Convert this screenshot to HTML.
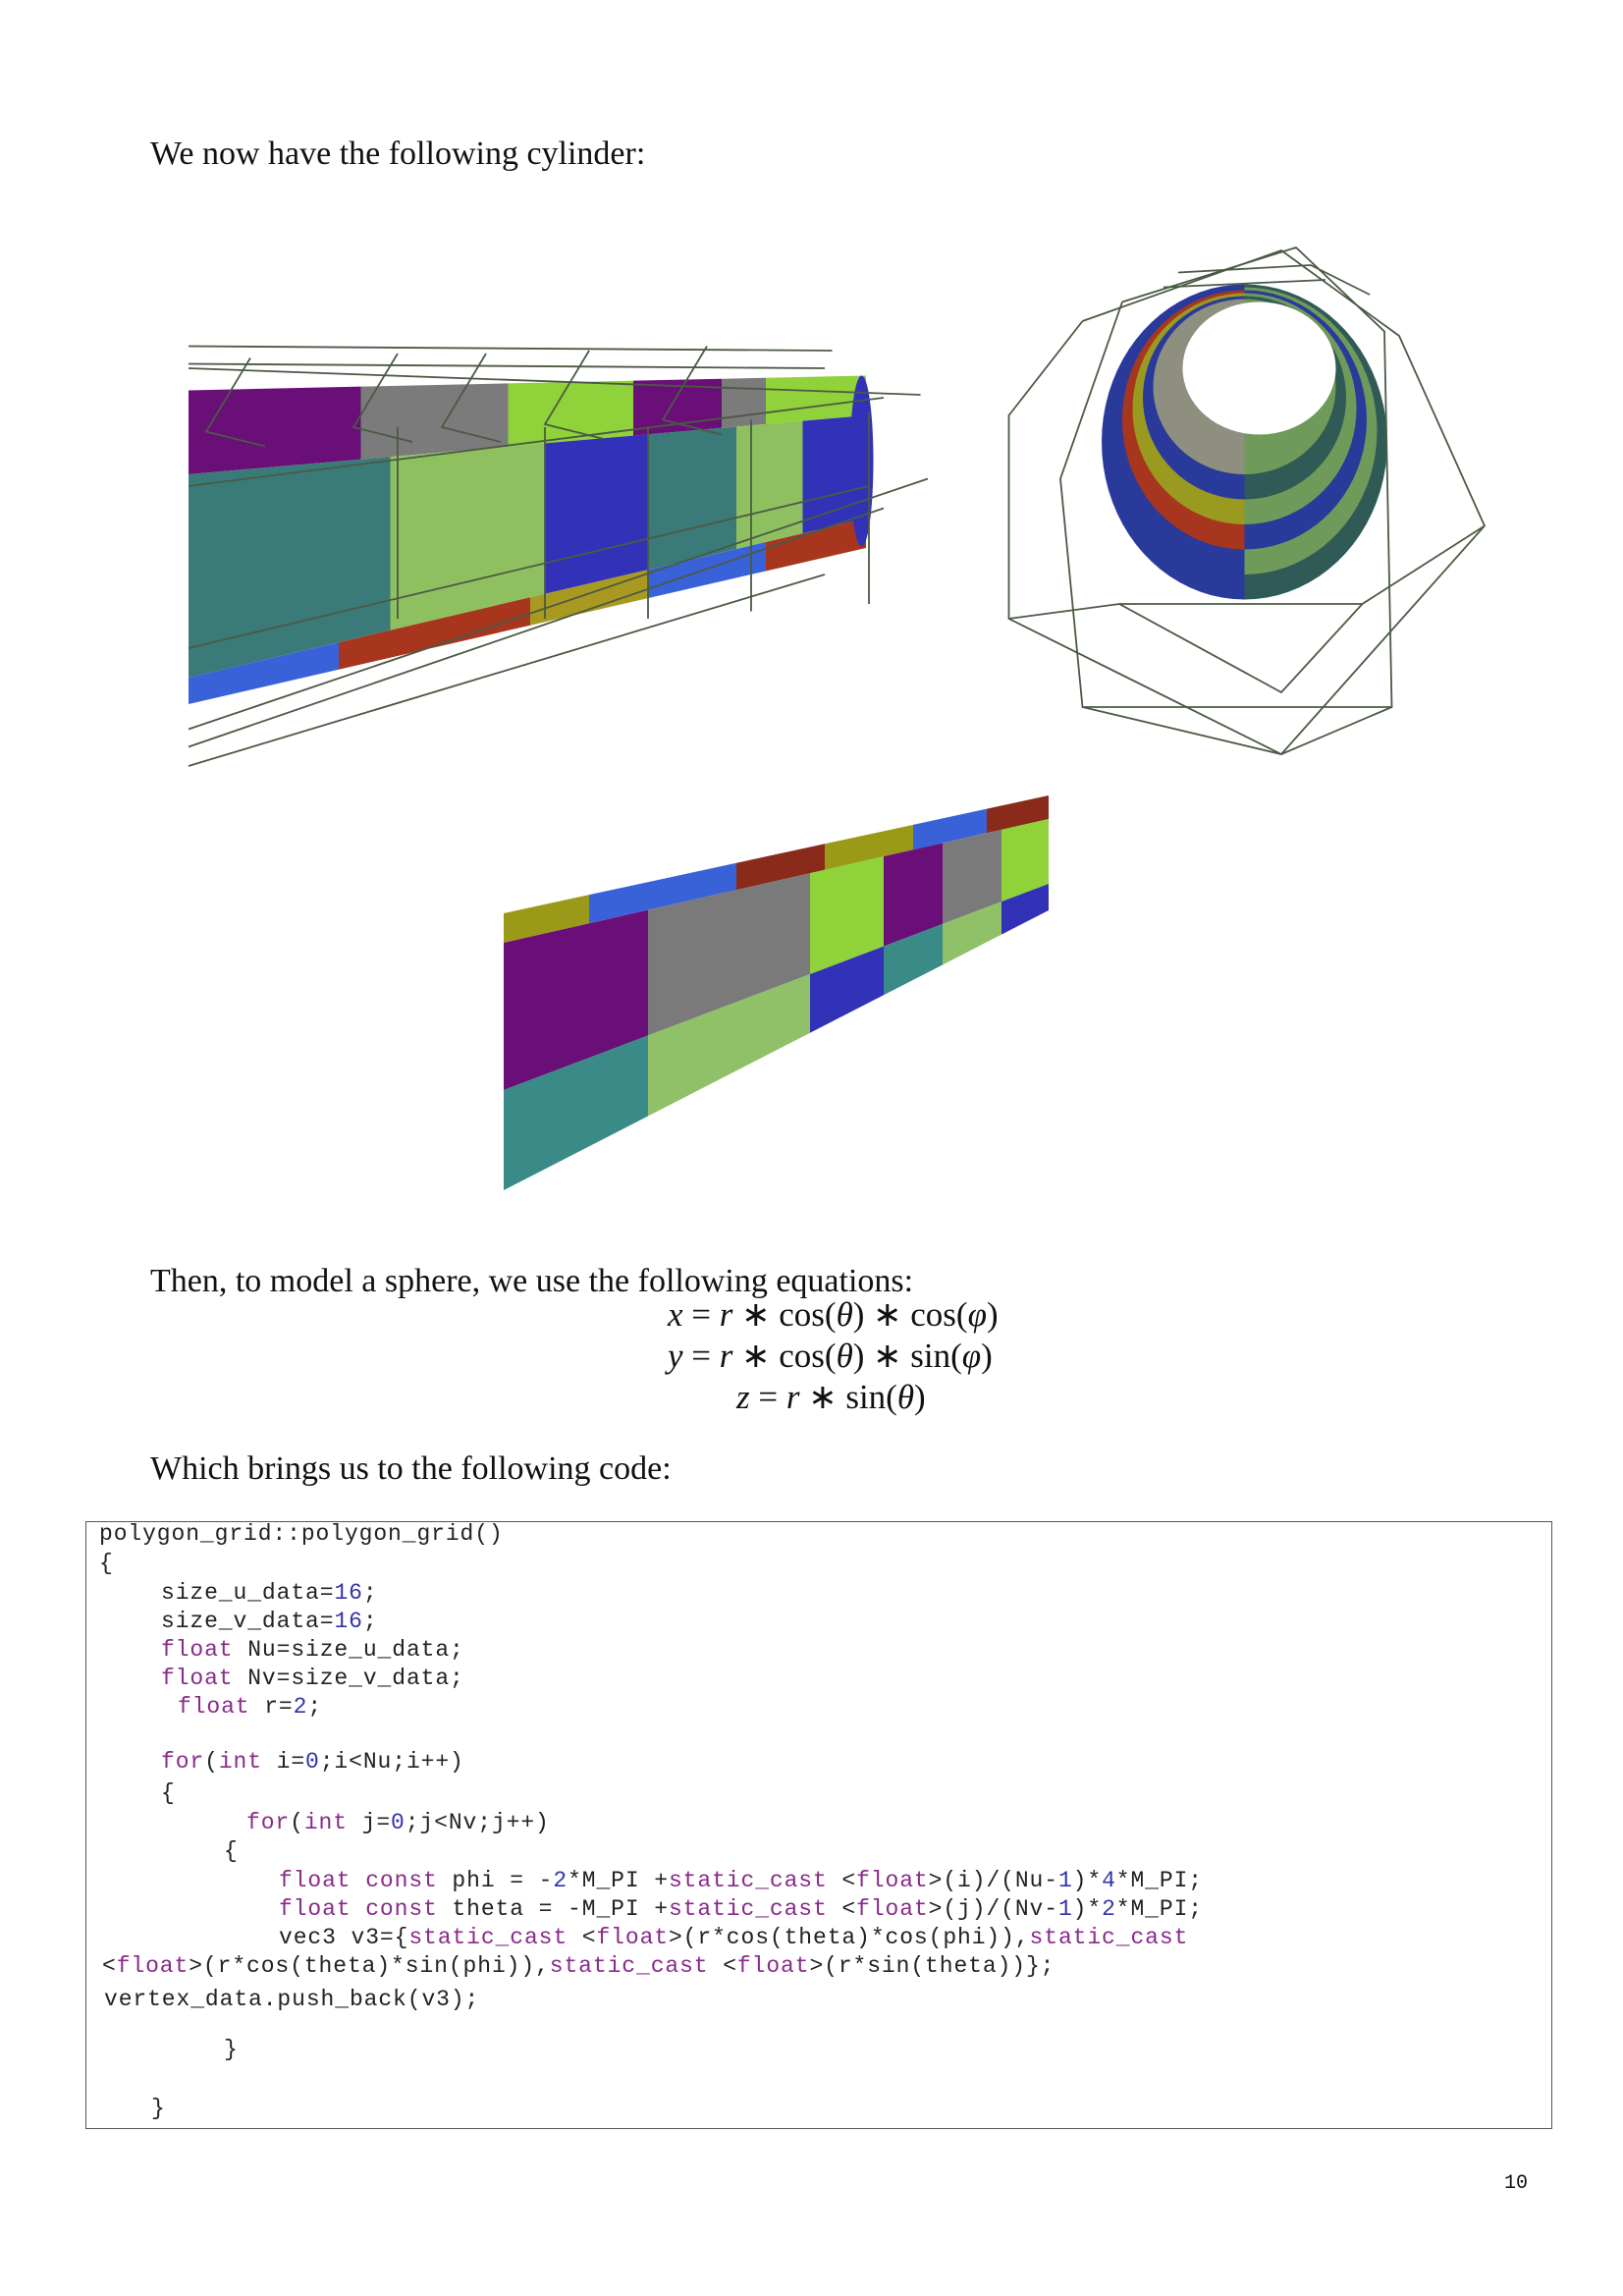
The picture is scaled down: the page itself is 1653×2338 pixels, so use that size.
<!DOCTYPE html>
<html><head><meta charset="utf-8">
<style>
html,body{margin:0;padding:0;background:#fff;}
body{width:1653px;height:2338px;position:relative;overflow:hidden;font-family:"Liberation Serif",serif;color:#111;}
.t{position:absolute;font-size:34px;white-space:nowrap;}
.eq{position:absolute;font-size:35px;white-space:nowrap;font-family:"Liberation Serif",serif;}
#code{position:absolute;left:87px;top:1549px;width:1494px;height:619px;border:1.5px solid #555;box-sizing:border-box;}
.cl{position:absolute;font-family:"Liberation Mono",monospace;font-size:23px;letter-spacing:0.9px;white-space:pre;color:#222;}
.k{color:#8a2a8a}.n{color:#3333aa}
svg{position:absolute;left:0;top:0;}
</style></head><body>
<svg id="art" width="1653" height="2338" viewBox="0 0 1102 1558.67"></svg>
<div class="t" style="left:153px;top:138px">We now have the following cylinder:</div>
<div class="t" style="left:153px;top:1286px">Then, to model a sphere, we use the following equations:</div>
<div class="eq" style="left:680px;top:1319px"><i>x</i> = <i>r</i> ∗ cos(<i>θ</i>) ∗ cos(<i>φ</i>)</div>
<div class="eq" style="left:680px;top:1361px"><i>y</i> = <i>r</i> ∗ cos(<i>θ</i>) ∗ sin(<i>φ</i>)</div>
<div class="eq" style="left:750px;top:1403px"><i>z</i> = <i>r</i> ∗ sin(<i>θ</i>)</div>
<div class="t" style="left:153px;top:1477px">Which brings us to the following code:</div>
<div id="code">
<div class="cl" style="left:13px;top:-1px">polygon_grid::polygon_grid()</div>
<div class="cl" style="left:13px;top:29px">{</div>
<div class="cl" style="left:76px;top:59px">size_u_data=<span class="n">16</span>;</div>
<div class="cl" style="left:76px;top:88px">size_v_data=<span class="n">16</span>;</div>
<div class="cl" style="left:76px;top:117px"><span class="k">float</span> Nu=size_u_data;</div>
<div class="cl" style="left:76px;top:146px"><span class="k">float</span> Nv=size_v_data;</div>
<div class="cl" style="left:93px;top:175px"><span class="k">float</span> r=<span class="n">2</span>;</div>
<div class="cl" style="left:76px;top:231px"><span class="k">for</span>(<span class="k">int</span> i=<span class="n">0</span>;i&lt;Nu;i++)</div>
<div class="cl" style="left:76px;top:263px">{</div>
<div class="cl" style="left:163px;top:293px"><span class="k">for</span>(<span class="k">int</span> j=<span class="n">0</span>;j&lt;Nv;j++)</div>
<div class="cl" style="left:140px;top:322px">{</div>
<div class="cl" style="left:196px;top:352px"><span class="k">float const</span> phi = -<span class="n">2</span>*M_PI +<span class="k">static_cast</span> &lt;<span class="k">float</span>&gt;(i)/(Nu-<span class="n">1</span>)*<span class="n">4</span>*M_PI;</div>
<div class="cl" style="left:196px;top:381px"><span class="k">float const</span> theta = -M_PI +<span class="k">static_cast</span> &lt;<span class="k">float</span>&gt;(j)/(Nv-<span class="n">1</span>)*<span class="n">2</span>*M_PI;</div>
<div class="cl" style="left:196px;top:410px">vec3 v3={<span class="k">static_cast</span> &lt;<span class="k">float</span>&gt;(r*cos(theta)*cos(phi)),<span class="k">static_cast</span></div>
<div class="cl" style="left:16px;top:439px">&lt;<span class="k">float</span>&gt;(r*cos(theta)*sin(phi)),<span class="k">static_cast</span> &lt;<span class="k">float</span>&gt;(r*sin(theta))};</div>
<div class="cl" style="left:18px;top:473px">vertex_data.push_back(v3);</div>
<div class="cl" style="left:140px;top:524px">}</div>
<div class="cl" style="left:66px;top:584px">}</div>
</div>
<div class="t" style="left:1532px;top:2212px;font-family:'Liberation Mono',monospace;font-size:20px">10</div>
<script>
const svg=document.getElementById('art');
const NS='http://www.w3.org/2000/svg';
function poly(pts,fill,name){const p=document.createElementNS(NS,'polygon');p.setAttribute('points',pts.map(q=>q.join(',')).join(' '));p.setAttribute('fill',fill);


svg.appendChild(p);}
function line(pts,name){const p=document.createElementNS(NS,'polyline');p.setAttribute('points',pts.map(q=>q.join(',')).join(' '));p.setAttribute('fill','none');p.setAttribute('stroke','#4b5a44');p.setAttribute('stroke-width','1.2');


svg.appendChild(p);}
function lerp(a,b,t){return a+(b-a)*t;}
function cyl(x0,x1,lines,strips,name){
  strips.forEach((s,si)=>{
    const L1=lines[si],L2=lines[si+1];
    s.forEach(([a,b,c])=>{
      const ta=(a-x0)/(x1-x0),tb=(b-x0)/(x1-x0);
      poly([[a,lerp(L1[0],L1[1],ta)],[b,lerp(L1[0],L1[1],tb)],[b,lerp(L2[0],L2[1],tb)],[a,lerp(L2[0],L2[1],ta)]],c,name);
    });
  });
}
cyl(128,588,[[265,255],[322,282],[460,352],[478,372]],[
 [[128,245,'#6a0f78'],[245,345,'#7b7b7b'],[345,430,'#8fd23a'],[430,490,'#6a0f78'],[490,520,'#7b7b7b'],[520,588,'#8fd23a']],
 [[128,265,'#3a7a78'],[265,370,'#8fc060'],[370,440,'#3232b8'],[440,500,'#3a7a78'],[500,545,'#8fc060'],[545,588,'#3232b8']],
 [[128,230,'#3a62d8'],[230,360,'#a8361f'],[360,440,'#a89a20'],[440,520,'#3a62d8'],[520,588,'#a8361f']]
],'left-cylinder');
const e=document.createElementNS(NS,'ellipse');e.setAttribute('cx',585);e.setAttribute('cy',313);e.setAttribute('rx',8);e.setAttribute('ry',58);e.setAttribute('fill','#3232b8');


svg.appendChild(e);
line([[128,235],[565,238]],'wire');line([[128,247],[560,250]],'wire');line([[128,250],[625,268]],'wire');
line([[128,495],[630,325]],'wire');line([[128,507],[600,345]],'wire');line([[128,520],[560,390]],'wire');
[[170,243],[270,240],[330,240],[400,238],[480,235]].forEach(([x,y])=>line([[x,y],[x-30,y+50],[x+10,y+60]],'wire'));
[[270,290],[370,290],[440,290],[510,285],[590,280]].forEach(([x,y])=>line([[x,y],[x,y+130]],'wire'));
line([[128,440],[590,330]],'wire');line([[128,330],[600,270]],'wire');
const rings=[['#2a3a9a','#2f5a55'],['#2a3a9a','#6f9a5a'],['#a8361f','#2a3a9a'],['#9a9a20','#6f9a5a'],['#2a3a9a','#2f5a55'],['#8f8f80','#6f9a5a']];
rings.forEach((c,i)=>{const t=i/rings.length;const cx=845,cy=lerp(300,255,t),rx=lerp(97,55,t),ry=lerp(107,50,t);
 poly([...Array(41)].map((_,k)=>{const a=Math.PI/2+k*Math.PI/40;return[cx+rx*Math.cos(a),cy+ry*Math.sin(a)]}),c[0],'cone-ring-left');
 poly([...Array(41)].map((_,k)=>{const a=-Math.PI/2+k*Math.PI/40;return[cx+rx*Math.cos(a),cy+ry*Math.sin(a)]}),c[1],'cone-ring-right');});
const h=document.createElementNS(NS,'ellipse');h.setAttribute('cx',855);h.setAttribute('cy',250);h.setAttribute('rx',52);h.setAttribute('ry',45);h.setAttribute('fill','#fff');


svg.appendChild(h);
line([[735,218],[870,170],[950,228],[1008,357],[870,512],[685,420],[685,282],[735,218]],'cone-wire');
line([[762,205],[880,168],[940,225],[945,480],[735,480],[720,325],[762,205]],'cone-wire');
line([[735,480],[870,512],[945,480]],'cone-wire');line([[760,410],[925,410]],'cone-wire');
line([[685,420],[760,410],[870,470],[925,410],[1008,357]],'cone-wire');
line([[800,185],[890,180],[930,200]],'cone-wire');line([[790,195],[900,190]],'cone-wire');
cyl(342,712,[[620,540],[640,556],[740,600],[808,618]],[
 [[342,400,'#9a9a18'],[400,500,'#3a62d8'],[500,560,'#8a2a1a'],[560,620,'#9a9a18'],[620,670,'#3a62d8'],[670,712,'#8a2a1a']],
 [[342,440,'#6a0f78'],[440,550,'#7a7a7a'],[550,600,'#8fd23a'],[600,640,'#6a0f78'],[640,680,'#7a7a7a'],[680,712,'#8fd23a']],
 [[342,440,'#3a8a88'],[440,550,'#90c068'],[550,600,'#3232b8'],[600,640,'#3a8a88'],[640,680,'#90c068'],[680,712,'#3232b8']]
],'bottom-cylinder');
</script>
</body></html>
